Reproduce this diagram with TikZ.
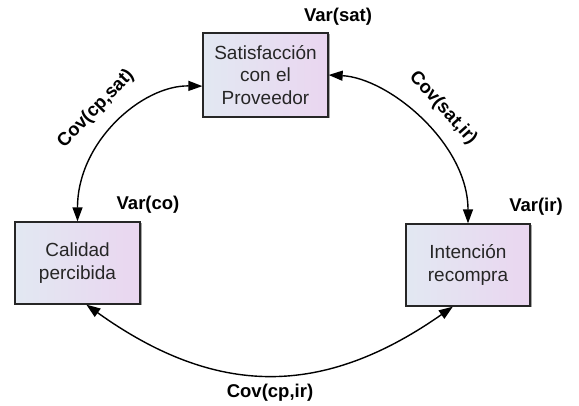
\documentclass[tikz,border=0pt]{standalone}
\usepackage{fontspec}
\setmainfont{Liberation Sans}
\usetikzlibrary{arrows.meta,shadows}
\definecolor{boxL}{RGB}{226,232,242}
\definecolor{boxR}{RGB}{234,214,240}
\begin{document}
\begin{tikzpicture}[x=1pt,y=-1pt,
  construct/.style={draw=black!85, line width=1.3pt, left color=boxL, right color=boxR,
    minimum width=125pt, minimum height=82pt, inner sep=0pt, align=center,
    font=\fontsize{19}{22.5}\selectfont, text=black!85,
    drop shadow={shadow xshift=1.5pt, shadow yshift=-1.5pt, opacity=0.35, fill=black}},
  param/.style={font=\bfseries\fontsize{18.5}{22}\selectfont, inner sep=0pt},
  cov/.style={draw=black, line width=1.4pt,
    {Triangle[length=14pt,width=10pt]}-{Triangle[length=14pt,width=10pt]}}]
\useasboundingbox (0,0) rectangle (579,406);

% latent constructs
\node[construct, minimum height=84pt] (sat) at (265.5,75) {Satisfacción\\con el\\Proveedor};
\node[construct] (cp) at (77.5,263) {Calidad\\percibida};
\node[construct, minimum width=124pt] (ir) at (468,265) {Intención\\recompra};

% variances
\node[param] (vsat) at (338,17) {Var(sat)};
\node[param] (vcp) at (148,205) {Var(co)};
\node[param] (vir) at (536,207) {Var(ir)};

% covariances
\draw[cov] (cp.north) .. controls +(0,-80) and +(-60,-1) .. (sat.190);
\draw[cov] (sat.east) .. controls +(60,3) and +(0,-80) .. (ir.north);
\draw[cov] (cp.-78) .. controls +(130,93) and +(-130,91) .. (ir.-110);

\node[param, rotate=46] (csat) at (96,109) {Cov(cp,sat)};
\node[param, rotate=-48] (cir) at (443,108) {Cov(sat,ir)};
\node[param] (cpir) at (270,393) {Cov(cp,ir)};
\end{tikzpicture}
\end{document}
